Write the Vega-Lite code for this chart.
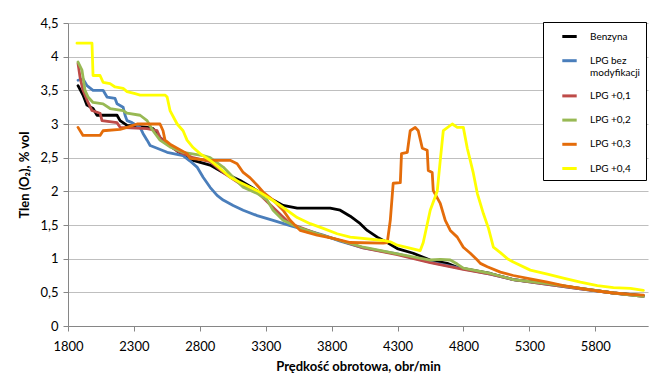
{
  "$schema": "https://vega.github.io/schema/vega-lite/v6.json",
  "width": 580,
  "height": 303,
  "autosize": {"type": "none"},
  "padding": {"left": 68, "top": 23, "right": 6, "bottom": 48},
  "background": "white",
  "config": {
    "font": "Lato",
    "view": {"stroke": null},
    "axis": {
      "labelFont": "Lato",
      "labelFontSize": 13,
      "labelColor": "#000000",
      "titleFont": "Lato",
      "titleFontSize": 13,
      "titleFontWeight": "bold",
      "titleColor": "#000000",
      "domainColor": "#868686",
      "tickColor": "#868686",
      "tickSize": 5,
      "gridColor": "#bfbfbf",
      "gridWidth": 1
    }
  },
  "data": {
    "values": [
      {"series": "Benzyna", "rpm": 1876, "o2": 3.57},
      {"series": "Benzyna", "rpm": 1914, "o2": 3.43},
      {"series": "Benzyna", "rpm": 1944, "o2": 3.28},
      {"series": "Benzyna", "rpm": 1990, "o2": 3.23},
      {"series": "Benzyna", "rpm": 2020, "o2": 3.13},
      {"series": "Benzyna", "rpm": 2172, "o2": 3.13},
      {"series": "Benzyna", "rpm": 2195, "o2": 3.05},
      {"series": "Benzyna", "rpm": 2248, "o2": 2.98},
      {"series": "Benzyna", "rpm": 2400, "o2": 2.95},
      {"series": "Benzyna", "rpm": 2445, "o2": 2.93},
      {"series": "Benzyna", "rpm": 2498, "o2": 2.8},
      {"series": "Benzyna", "rpm": 2552, "o2": 2.71},
      {"series": "Benzyna", "rpm": 2628, "o2": 2.6},
      {"series": "Benzyna", "rpm": 2749, "o2": 2.46},
      {"series": "Benzyna", "rpm": 2878, "o2": 2.39},
      {"series": "Benzyna", "rpm": 2977, "o2": 2.28},
      {"series": "Benzyna", "rpm": 3106, "o2": 2.16},
      {"series": "Benzyna", "rpm": 3235, "o2": 2.01},
      {"series": "Benzyna", "rpm": 3356, "o2": 1.87},
      {"series": "Benzyna", "rpm": 3432, "o2": 1.79},
      {"series": "Benzyna", "rpm": 3539, "o2": 1.75},
      {"series": "Benzyna", "rpm": 3789, "o2": 1.75},
      {"series": "Benzyna", "rpm": 3865, "o2": 1.72},
      {"series": "Benzyna", "rpm": 3941, "o2": 1.63},
      {"series": "Benzyna", "rpm": 4017, "o2": 1.52},
      {"series": "Benzyna", "rpm": 4070, "o2": 1.42},
      {"series": "Benzyna", "rpm": 4146, "o2": 1.32},
      {"series": "Benzyna", "rpm": 4222, "o2": 1.24},
      {"series": "Benzyna", "rpm": 4298, "o2": 1.15},
      {"series": "Benzyna", "rpm": 4419, "o2": 1.08},
      {"series": "Benzyna", "rpm": 4548, "o2": 0.98},
      {"series": "Benzyna", "rpm": 4677, "o2": 0.93},
      {"series": "Benzyna", "rpm": 4753, "o2": 0.87},
      {"series": "Benzyna", "rpm": 5004, "o2": 0.78},
      {"series": "Benzyna", "rpm": 5178, "o2": 0.69},
      {"series": "Benzyna", "rpm": 5437, "o2": 0.63},
      {"series": "Benzyna", "rpm": 5687, "o2": 0.56},
      {"series": "Benzyna", "rpm": 5938, "o2": 0.49},
      {"series": "Benzyna", "rpm": 6165, "o2": 0.45},

      {"series": "LPG bez modyfikacji", "rpm": 1876, "o2": 3.65},
      {"series": "LPG bez modyfikacji", "rpm": 1914, "o2": 3.67},
      {"series": "LPG bez modyfikacji", "rpm": 1944, "o2": 3.57},
      {"series": "LPG bez modyfikacji", "rpm": 1990, "o2": 3.5},
      {"series": "LPG bez modyfikacji", "rpm": 2066, "o2": 3.5},
      {"series": "LPG bez modyfikacji", "rpm": 2096, "o2": 3.4},
      {"series": "LPG bez modyfikacji", "rpm": 2157, "o2": 3.38},
      {"series": "LPG bez modyfikacji", "rpm": 2172, "o2": 3.3},
      {"series": "LPG bez modyfikacji", "rpm": 2218, "o2": 3.25},
      {"series": "LPG bez modyfikacji", "rpm": 2233, "o2": 3.13},
      {"series": "LPG bez modyfikacji", "rpm": 2248, "o2": 3.05},
      {"series": "LPG bez modyfikacji", "rpm": 2286, "o2": 3.02},
      {"series": "LPG bez modyfikacji", "rpm": 2347, "o2": 2.95},
      {"series": "LPG bez modyfikacji", "rpm": 2369, "o2": 2.86},
      {"series": "LPG bez modyfikacji", "rpm": 2400, "o2": 2.76},
      {"series": "LPG bez modyfikacji", "rpm": 2423, "o2": 2.68},
      {"series": "LPG bez modyfikacji", "rpm": 2476, "o2": 2.64},
      {"series": "LPG bez modyfikacji", "rpm": 2552, "o2": 2.58},
      {"series": "LPG bez modyfikacji", "rpm": 2673, "o2": 2.53},
      {"series": "LPG bez modyfikacji", "rpm": 2726, "o2": 2.45},
      {"series": "LPG bez modyfikacji", "rpm": 2779, "o2": 2.36},
      {"series": "LPG bez modyfikacji", "rpm": 2825, "o2": 2.21},
      {"series": "LPG bez modyfikacji", "rpm": 2878, "o2": 2.06},
      {"series": "LPG bez modyfikacji", "rpm": 2931, "o2": 1.94},
      {"series": "LPG bez modyfikacji", "rpm": 2977, "o2": 1.87},
      {"series": "LPG bez modyfikacji", "rpm": 3053, "o2": 1.79},
      {"series": "LPG bez modyfikacji", "rpm": 3129, "o2": 1.72},
      {"series": "LPG bez modyfikacji", "rpm": 3235, "o2": 1.64},
      {"series": "LPG bez modyfikacji", "rpm": 3356, "o2": 1.57},
      {"series": "LPG bez modyfikacji", "rpm": 3485, "o2": 1.49},
      {"series": "LPG bez modyfikacji", "rpm": 3614, "o2": 1.42},
      {"series": "LPG bez modyfikacji", "rpm": 3736, "o2": 1.35},
      {"series": "LPG bez modyfikacji", "rpm": 3865, "o2": 1.26},
      {"series": "LPG bez modyfikacji", "rpm": 4040, "o2": 1.16},
      {"series": "LPG bez modyfikacji", "rpm": 4298, "o2": 1.07},
      {"series": "LPG bez modyfikacji", "rpm": 4548, "o2": 0.95},
      {"series": "LPG bez modyfikacji", "rpm": 4799, "o2": 0.85},
      {"series": "LPG bez modyfikacji", "rpm": 5004, "o2": 0.77},
      {"series": "LPG bez modyfikacji", "rpm": 5178, "o2": 0.69},
      {"series": "LPG bez modyfikacji", "rpm": 5437, "o2": 0.62},
      {"series": "LPG bez modyfikacji", "rpm": 5687, "o2": 0.55},
      {"series": "LPG bez modyfikacji", "rpm": 5938, "o2": 0.49},
      {"series": "LPG bez modyfikacji", "rpm": 6165, "o2": 0.44},

      {"series": "LPG +0,1", "rpm": 1876, "o2": 3.9},
      {"series": "LPG +0,1", "rpm": 1891, "o2": 3.7},
      {"series": "LPG +0,1", "rpm": 1914, "o2": 3.5},
      {"series": "LPG +0,1", "rpm": 1952, "o2": 3.32},
      {"series": "LPG +0,1", "rpm": 1982, "o2": 3.2},
      {"series": "LPG +0,1", "rpm": 2043, "o2": 3.16},
      {"series": "LPG +0,1", "rpm": 2058, "o2": 3.05},
      {"series": "LPG +0,1", "rpm": 2172, "o2": 3.02},
      {"series": "LPG +0,1", "rpm": 2195, "o2": 2.95},
      {"series": "LPG +0,1", "rpm": 2400, "o2": 2.93},
      {"series": "LPG +0,1", "rpm": 2476, "o2": 2.9},
      {"series": "LPG +0,1", "rpm": 2498, "o2": 2.8},
      {"series": "LPG +0,1", "rpm": 2552, "o2": 2.7},
      {"series": "LPG +0,1", "rpm": 2628, "o2": 2.6},
      {"series": "LPG +0,1", "rpm": 2749, "o2": 2.5},
      {"series": "LPG +0,1", "rpm": 2878, "o2": 2.44},
      {"series": "LPG +0,1", "rpm": 2977, "o2": 2.28},
      {"series": "LPG +0,1", "rpm": 3106, "o2": 2.11},
      {"series": "LPG +0,1", "rpm": 3235, "o2": 1.99},
      {"series": "LPG +0,1", "rpm": 3356, "o2": 1.76},
      {"series": "LPG +0,1", "rpm": 3485, "o2": 1.52},
      {"series": "LPG +0,1", "rpm": 3690, "o2": 1.37},
      {"series": "LPG +0,1", "rpm": 3865, "o2": 1.27},
      {"series": "LPG +0,1", "rpm": 4040, "o2": 1.16},
      {"series": "LPG +0,1", "rpm": 4298, "o2": 1.06},
      {"series": "LPG +0,1", "rpm": 4548, "o2": 0.94},
      {"series": "LPG +0,1", "rpm": 4799, "o2": 0.84},
      {"series": "LPG +0,1", "rpm": 5004, "o2": 0.77},
      {"series": "LPG +0,1", "rpm": 5178, "o2": 0.69},
      {"series": "LPG +0,1", "rpm": 5437, "o2": 0.62},
      {"series": "LPG +0,1", "rpm": 5687, "o2": 0.55},
      {"series": "LPG +0,1", "rpm": 5938, "o2": 0.49},
      {"series": "LPG +0,1", "rpm": 6165, "o2": 0.44},

      {"series": "LPG +0,2", "rpm": 1876, "o2": 3.92},
      {"series": "LPG +0,2", "rpm": 1906, "o2": 3.8},
      {"series": "LPG +0,2", "rpm": 1929, "o2": 3.5},
      {"series": "LPG +0,2", "rpm": 1952, "o2": 3.4},
      {"series": "LPG +0,2", "rpm": 1990, "o2": 3.32},
      {"series": "LPG +0,2", "rpm": 2066, "o2": 3.3},
      {"series": "LPG +0,2", "rpm": 2119, "o2": 3.23},
      {"series": "LPG +0,2", "rpm": 2218, "o2": 3.2},
      {"series": "LPG +0,2", "rpm": 2248, "o2": 3.16},
      {"series": "LPG +0,2", "rpm": 2347, "o2": 3.13},
      {"series": "LPG +0,2", "rpm": 2400, "o2": 3.05},
      {"series": "LPG +0,2", "rpm": 2445, "o2": 2.9},
      {"series": "LPG +0,2", "rpm": 2498, "o2": 2.76},
      {"series": "LPG +0,2", "rpm": 2574, "o2": 2.66},
      {"series": "LPG +0,2", "rpm": 2673, "o2": 2.58},
      {"series": "LPG +0,2", "rpm": 2825, "o2": 2.53},
      {"series": "LPG +0,2", "rpm": 2878, "o2": 2.5},
      {"series": "LPG +0,2", "rpm": 2977, "o2": 2.36},
      {"series": "LPG +0,2", "rpm": 3053, "o2": 2.21},
      {"series": "LPG +0,2", "rpm": 3129, "o2": 2.06},
      {"series": "LPG +0,2", "rpm": 3235, "o2": 1.97},
      {"series": "LPG +0,2", "rpm": 3311, "o2": 1.87},
      {"series": "LPG +0,2", "rpm": 3356, "o2": 1.72},
      {"series": "LPG +0,2", "rpm": 3432, "o2": 1.57},
      {"series": "LPG +0,2", "rpm": 3539, "o2": 1.47},
      {"series": "LPG +0,2", "rpm": 3690, "o2": 1.37},
      {"series": "LPG +0,2", "rpm": 3865, "o2": 1.27},
      {"series": "LPG +0,2", "rpm": 4040, "o2": 1.17},
      {"series": "LPG +0,2", "rpm": 4298, "o2": 1.07},
      {"series": "LPG +0,2", "rpm": 4548, "o2": 0.98},
      {"series": "LPG +0,2", "rpm": 4624, "o2": 0.99},
      {"series": "LPG +0,2", "rpm": 4700, "o2": 0.98},
      {"series": "LPG +0,2", "rpm": 4753, "o2": 0.92},
      {"series": "LPG +0,2", "rpm": 4799, "o2": 0.86},
      {"series": "LPG +0,2", "rpm": 5004, "o2": 0.78},
      {"series": "LPG +0,2", "rpm": 5178, "o2": 0.69},
      {"series": "LPG +0,2", "rpm": 5437, "o2": 0.63},
      {"series": "LPG +0,2", "rpm": 5687, "o2": 0.56},
      {"series": "LPG +0,2", "rpm": 5938, "o2": 0.49},
      {"series": "LPG +0,2", "rpm": 6165, "o2": 0.44},

      {"series": "LPG +0,3", "rpm": 1876, "o2": 2.95},
      {"series": "LPG +0,3", "rpm": 1914, "o2": 2.83},
      {"series": "LPG +0,3", "rpm": 2043, "o2": 2.83},
      {"series": "LPG +0,3", "rpm": 2066, "o2": 2.9},
      {"series": "LPG +0,3", "rpm": 2195, "o2": 2.92},
      {"series": "LPG +0,3", "rpm": 2248, "o2": 2.95},
      {"series": "LPG +0,3", "rpm": 2324, "o2": 3.0},
      {"series": "LPG +0,3", "rpm": 2498, "o2": 3.0},
      {"series": "LPG +0,3", "rpm": 2521, "o2": 2.9},
      {"series": "LPG +0,3", "rpm": 2536, "o2": 2.76},
      {"series": "LPG +0,3", "rpm": 2574, "o2": 2.7},
      {"series": "LPG +0,3", "rpm": 2628, "o2": 2.64},
      {"series": "LPG +0,3", "rpm": 2703, "o2": 2.56},
      {"series": "LPG +0,3", "rpm": 2726, "o2": 2.49},
      {"series": "LPG +0,3", "rpm": 2878, "o2": 2.46},
      {"series": "LPG +0,3", "rpm": 3030, "o2": 2.46},
      {"series": "LPG +0,3", "rpm": 3083, "o2": 2.41},
      {"series": "LPG +0,3", "rpm": 3129, "o2": 2.28},
      {"series": "LPG +0,3", "rpm": 3182, "o2": 2.2},
      {"series": "LPG +0,3", "rpm": 3235, "o2": 2.09},
      {"series": "LPG +0,3", "rpm": 3280, "o2": 1.99},
      {"series": "LPG +0,3", "rpm": 3356, "o2": 1.87},
      {"series": "LPG +0,3", "rpm": 3432, "o2": 1.72},
      {"series": "LPG +0,3", "rpm": 3485, "o2": 1.57},
      {"series": "LPG +0,3", "rpm": 3561, "o2": 1.42},
      {"series": "LPG +0,3", "rpm": 3690, "o2": 1.35},
      {"series": "LPG +0,3", "rpm": 3812, "o2": 1.3},
      {"series": "LPG +0,3", "rpm": 3941, "o2": 1.24},
      {"series": "LPG +0,3", "rpm": 4191, "o2": 1.23},
      {"series": "LPG +0,3", "rpm": 4222, "o2": 1.24},
      {"series": "LPG +0,3", "rpm": 4245, "o2": 1.57},
      {"series": "LPG +0,3", "rpm": 4267, "o2": 2.12},
      {"series": "LPG +0,3", "rpm": 4321, "o2": 2.13},
      {"series": "LPG +0,3", "rpm": 4330, "o2": 2.56},
      {"series": "LPG +0,3", "rpm": 4374, "o2": 2.58},
      {"series": "LPG +0,3", "rpm": 4396, "o2": 2.9},
      {"series": "LPG +0,3", "rpm": 4434, "o2": 2.95},
      {"series": "LPG +0,3", "rpm": 4457, "o2": 2.9},
      {"series": "LPG +0,3", "rpm": 4488, "o2": 2.64},
      {"series": "LPG +0,3", "rpm": 4525, "o2": 2.61},
      {"series": "LPG +0,3", "rpm": 4533, "o2": 2.31},
      {"series": "LPG +0,3", "rpm": 4563, "o2": 2.28},
      {"series": "LPG +0,3", "rpm": 4571, "o2": 2.01},
      {"series": "LPG +0,3", "rpm": 4624, "o2": 1.82},
      {"series": "LPG +0,3", "rpm": 4662, "o2": 1.57},
      {"series": "LPG +0,3", "rpm": 4700, "o2": 1.42},
      {"series": "LPG +0,3", "rpm": 4753, "o2": 1.32},
      {"series": "LPG +0,3", "rpm": 4799, "o2": 1.17},
      {"series": "LPG +0,3", "rpm": 4852, "o2": 1.08},
      {"series": "LPG +0,3", "rpm": 4905, "o2": 0.98},
      {"series": "LPG +0,3", "rpm": 4928, "o2": 0.93},
      {"series": "LPG +0,3", "rpm": 4981, "o2": 0.88},
      {"series": "LPG +0,3", "rpm": 5080, "o2": 0.8},
      {"series": "LPG +0,3", "rpm": 5178, "o2": 0.75},
      {"series": "LPG +0,3", "rpm": 5307, "o2": 0.7},
      {"series": "LPG +0,3", "rpm": 5437, "o2": 0.65},
      {"series": "LPG +0,3", "rpm": 5558, "o2": 0.6},
      {"series": "LPG +0,3", "rpm": 5687, "o2": 0.56},
      {"series": "LPG +0,3", "rpm": 5816, "o2": 0.52},
      {"series": "LPG +0,3", "rpm": 5938, "o2": 0.49},
      {"series": "LPG +0,3", "rpm": 6067, "o2": 0.47},
      {"series": "LPG +0,3", "rpm": 6165, "o2": 0.46},

      {"series": "LPG +0,4", "rpm": 1868, "o2": 4.2},
      {"series": "LPG +0,4", "rpm": 1982, "o2": 4.2},
      {"series": "LPG +0,4", "rpm": 1990, "o2": 3.72},
      {"series": "LPG +0,4", "rpm": 2043, "o2": 3.72},
      {"series": "LPG +0,4", "rpm": 2066, "o2": 3.62},
      {"series": "LPG +0,4", "rpm": 2119, "o2": 3.6},
      {"series": "LPG +0,4", "rpm": 2157, "o2": 3.55},
      {"series": "LPG +0,4", "rpm": 2218, "o2": 3.53},
      {"series": "LPG +0,4", "rpm": 2248, "o2": 3.48},
      {"series": "LPG +0,4", "rpm": 2309, "o2": 3.45},
      {"series": "LPG +0,4", "rpm": 2347, "o2": 3.43},
      {"series": "LPG +0,4", "rpm": 2536, "o2": 3.43},
      {"series": "LPG +0,4", "rpm": 2552, "o2": 3.4},
      {"series": "LPG +0,4", "rpm": 2574, "o2": 3.2},
      {"series": "LPG +0,4", "rpm": 2628, "o2": 3.0},
      {"series": "LPG +0,4", "rpm": 2673, "o2": 2.9},
      {"series": "LPG +0,4", "rpm": 2703, "o2": 2.76},
      {"series": "LPG +0,4", "rpm": 2749, "o2": 2.65},
      {"series": "LPG +0,4", "rpm": 2802, "o2": 2.56},
      {"series": "LPG +0,4", "rpm": 2878, "o2": 2.46},
      {"series": "LPG +0,4", "rpm": 2954, "o2": 2.34},
      {"series": "LPG +0,4", "rpm": 3030, "o2": 2.21},
      {"series": "LPG +0,4", "rpm": 3106, "o2": 2.13},
      {"series": "LPG +0,4", "rpm": 3235, "o2": 2.01},
      {"series": "LPG +0,4", "rpm": 3334, "o2": 1.89},
      {"series": "LPG +0,4", "rpm": 3432, "o2": 1.76},
      {"series": "LPG +0,4", "rpm": 3539, "o2": 1.61},
      {"series": "LPG +0,4", "rpm": 3637, "o2": 1.52},
      {"series": "LPG +0,4", "rpm": 3736, "o2": 1.45},
      {"series": "LPG +0,4", "rpm": 3842, "o2": 1.37},
      {"series": "LPG +0,4", "rpm": 3941, "o2": 1.32},
      {"series": "LPG +0,4", "rpm": 4191, "o2": 1.27},
      {"series": "LPG +0,4", "rpm": 4245, "o2": 1.25},
      {"series": "LPG +0,4", "rpm": 4298, "o2": 1.2},
      {"series": "LPG +0,4", "rpm": 4472, "o2": 1.12},
      {"series": "LPG +0,4", "rpm": 4495, "o2": 1.24},
      {"series": "LPG +0,4", "rpm": 4548, "o2": 1.72},
      {"series": "LPG +0,4", "rpm": 4601, "o2": 2.0},
      {"series": "LPG +0,4", "rpm": 4624, "o2": 2.46},
      {"series": "LPG +0,4", "rpm": 4647, "o2": 2.9},
      {"series": "LPG +0,4", "rpm": 4715, "o2": 3.0},
      {"series": "LPG +0,4", "rpm": 4753, "o2": 2.95},
      {"series": "LPG +0,4", "rpm": 4799, "o2": 2.95},
      {"series": "LPG +0,4", "rpm": 4829, "o2": 2.64},
      {"series": "LPG +0,4", "rpm": 4875, "o2": 2.27},
      {"series": "LPG +0,4", "rpm": 4905, "o2": 1.97},
      {"series": "LPG +0,4", "rpm": 4951, "o2": 1.67},
      {"series": "LPG +0,4", "rpm": 4990, "o2": 1.45},
      {"series": "LPG +0,4", "rpm": 5027, "o2": 1.17},
      {"series": "LPG +0,4", "rpm": 5080, "o2": 1.09},
      {"series": "LPG +0,4", "rpm": 5133, "o2": 1.0},
      {"series": "LPG +0,4", "rpm": 5178, "o2": 0.95},
      {"series": "LPG +0,4", "rpm": 5307, "o2": 0.83},
      {"series": "LPG +0,4", "rpm": 5437, "o2": 0.77},
      {"series": "LPG +0,4", "rpm": 5558, "o2": 0.71},
      {"series": "LPG +0,4", "rpm": 5687, "o2": 0.65},
      {"series": "LPG +0,4", "rpm": 5816, "o2": 0.6},
      {"series": "LPG +0,4", "rpm": 5938, "o2": 0.57},
      {"series": "LPG +0,4", "rpm": 6067, "o2": 0.56},
      {"series": "LPG +0,4", "rpm": 6165, "o2": 0.53}
    ]
  },
  "mark": {"type": "line", "strokeWidth": 2.8, "strokeJoin": "round", "strokeCap": "round"},
  "encoding": {
    "x": {
      "field": "rpm",
      "type": "quantitative",
      "scale": {"domain": [1800, 6200], "nice": false, "zero": false},
      "axis": {
        "values": [1800, 2300, 2800, 3300, 3800, 4300, 4800, 5300, 5800],
        "format": "d",
        "grid": false,
        "labelFlush": false,
        "labelPadding": 9,
        "titlePadding": 7,
        "title": "Prędkość obrotowa, obr/min"
      }
    },
    "y": {
      "field": "o2",
      "type": "quantitative",
      "scale": {"domain": [0, 4.5], "nice": false},
      "axis": {
        "values": [0, 0.5, 1, 1.5, 2, 2.5, 3, 3.5, 4, 4.5],
        "labelExpr": "replace(format(datum.value, '~g'), '.', ',')",
        "grid": true,
        "labelFlush": false,
        "labelPadding": 5,
        "titlePadding": 8,
        "title": "Tlen (O₂), % vol"
      }
    },
    "color": {
      "field": "series",
      "type": "nominal",
      "sort": ["Benzyna", "LPG bez modyfikacji", "LPG +0,1", "LPG +0,2", "LPG +0,3", "LPG +0,4"],
      "scale": {
        "domain": ["Benzyna", "LPG bez modyfikacji", "LPG +0,1", "LPG +0,2", "LPG +0,3", "LPG +0,4"],
        "range": ["#000000", "#4A7EBB", "#BE4B48", "#98B954", "#E46C0A", "#FFFF00"]
      },
      "legend": {
        "title": null,
        "orient": "none",
        "legendX": 475,
        "legendY": -1,
        "direction": "vertical",
        "strokeColor": "#000000",
        "fillColor": "#ffffff",
        "padding": 5,
        "symbolType": "M-0.9,0L0.9,0",
        "symbolSize": 256,
        "symbolStrokeWidth": 3,
        "symbolOffset": 12,
        "labelOffset": 11,
        "labelFont": "Lato",
        "labelFontSize": 10,
        "labelColor": "#000000",
        "labelLimit": 0,
        "rowPadding": 8.2,
        "labelExpr": "datum.label == 'LPG bez modyfikacji' ? ['LPG bez', 'modyfikacji'] : datum.label"
      }
    }
  }
}
